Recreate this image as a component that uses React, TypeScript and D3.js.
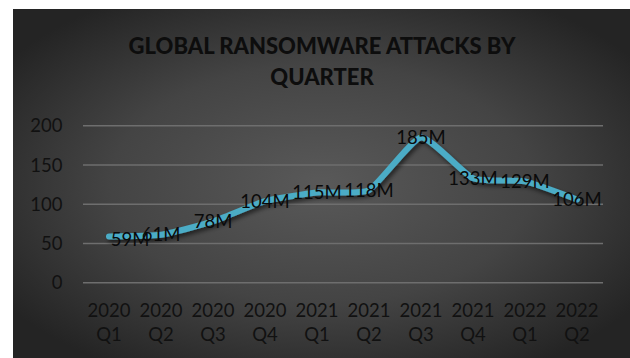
import React from "react";
import * as d3 from "d3";

const categories = ["2020 Q1", "2020 Q2", "2020 Q3", "2020 Q4", "2021 Q1", "2021 Q2", "2021 Q3", "2021 Q4", "2022 Q1", "2022 Q2"];
const attacks = [59, 61, 78, 104, 115, 118, 185, 133, 129, 106];
const dataLabels = ["59M", "61M", "78M", "104M", "115M", "118M", "185M", "133M", "129M", "106M"];
const yTicks = [0, 50, 100, 150, 200];
const titleLines = ["GLOBAL RANSOMWARE ATTACKS BY", "QUARTER"];

const W = 630;
const H = 358;
const FONT = "Lato, 'Open Sans', sans-serif";

export default function App() {
  const x = d3.scalePoint<string>().domain(categories).range([83, 603]).padding(0.5);
  const y = d3.scaleLinear().domain([0, 200]).range([282.7, 125.7]);
  const pts = attacks.map((v, i) => [x(categories[i]) as number, y(v)] as [number, number]);
  const line = d3.line<[number, number]>().x((d) => d[0]).y((d) => d[1]).curve(d3.curveCardinal.tension(0.5));

  return (
    <svg width={W} height={H} style={{ position: "absolute", left: 0, top: 0, display: "block" }}>
      <defs>
        <radialGradient id="bg" cx="50%" cy="50%" r="62%">
          <stop offset="0%" stopColor="#595959" />
          <stop offset="55%" stopColor="#444" />
          <stop offset="100%" stopColor="#242424" />
        </radialGradient>
        <filter id="shadow" x="-10%" y="-20%" width="120%" height="150%">
          <feDropShadow dx="2" dy="3" stdDeviation="2" floodColor="#000" floodOpacity="0.55" />
        </filter>
      </defs>
      <rect x={0} y={0} width={W} height={H} fill="#fff" />
      <rect x={13} y={9} width={W - 13} height={H - 9} fill="url(#bg)" />

      {titleLines.map((t, i) => (
        <text key={t} x={322} y={54 + i * 31} textAnchor="middle" fontFamily={FONT} fontWeight={900} fontSize={22} fill="#0d0d0d">
          {t}
        </text>
      ))}

      {yTicks.map((t) => (
        <g key={t}>
          <line x1={83} x2={603} y1={y(t)} y2={y(t)} stroke="#6e6e6e" strokeWidth={1.5} />
          <text x={62.5} y={y(t)} dy="0.36em" textAnchor="end" fontFamily={FONT} fontSize={18.5} fill="#111">
            {t}
          </text>
        </g>
      ))}

      {categories.map((c) => {
        const [yr, q] = c.split(" ");
        const cx = x(c) as number;
        return (
          <text key={c} x={cx} textAnchor="middle" fontFamily={FONT} fontSize={18.5} fill="#111">
            <tspan x={cx} y={317}>{yr}</tspan>
            <tspan x={cx} y={341}>{q}</tspan>
          </text>
        );
      })}

      <path d={line(pts) || ""} fill="none" stroke="#4bacc6" strokeWidth={6} strokeLinecap="round" strokeLinejoin="round" filter="url(#shadow)" />

      {pts.map(([px, py], i) => (
        <text key={i} x={px + (i === 0 ? 21 : 0)} y={py + (i === 0 ? 3 : 0)} dy="0.36em" textAnchor="middle" fontFamily={FONT} fontSize={18.5} fill="#0a0a0a">
          {dataLabels[i]}
        </text>
      ))}
    </svg>
  );
}
